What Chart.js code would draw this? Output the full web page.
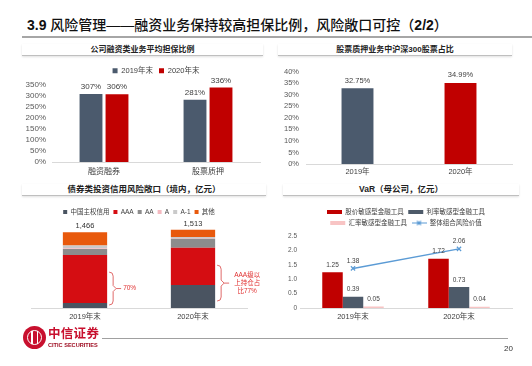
<!DOCTYPE html>
<html>
<head>
<meta charset="utf-8">
<script src="https://cdn.jsdelivr.net/npm/chart.js@4.4.0/dist/chart.umd.min.js"></script>
<style>
  body { margin: 0; width: 532px; height: 366px; background: #fff; position: relative; overflow: hidden;
         font-family: "Liberation Sans", "Noto Sans CJK SC", sans-serif; }
  canvas { position: absolute; }
  #title { position: absolute; left: 27px; top: 16px; font-size: 14px; line-height: 18px; font-weight: 500; color: #111; white-space: nowrap; }
  #title b { font-weight: bold; }
  #titleLine { position: absolute; left: 22px; top: 36px; width: 510px; height: 2px; background: #a6a6a6; }
  .hdr { position: absolute; font-size: 8px; line-height: 11px; font-weight: bold; text-align: center; color: #222;
         border-bottom: 1px solid #bfbfbf; box-shadow: 0 1px 2px rgba(0,0,0,0.12); white-space: nowrap; }
  #logo { position: absolute; left: 23px; top: 326px; width: 23px; height: 23px; border-radius: 50%; background: #c8102e; }
  #logo i { position: absolute; left: 4px; top: 4px; width: 13px; height: 13px; border: 1px solid #fff; border-radius: 50%; }
  #logo s { position: absolute; top: 5px; width: 1.5px; height: 13px; background: #fff; }
  #brand { position: absolute; left: 48px; top: 327px; font-size: 12.5px; line-height: 14px; font-weight: bold; color: #c8102e; letter-spacing: 0.3px; }
  #brandEn { position: absolute; left: 48px; top: 342px; font-size: 5.6px; line-height: 7px; font-weight: bold; color: #9e0b20; }
  #footLine { position: absolute; left: 102px; top: 338px; width: 406px; height: 1px; background: #a0a0a0; }
  #page { position: absolute; left: 504px; top: 344px; font-size: 8px; color: #333; }
</style>
</head>
<body>
<div id="title"><b>3.9</b> 风险管理——融资业务保持较高担保比例，风险敞口可控（<b>2/2</b>）</div>
<div id="titleLine"></div>
<div class="hdr" style="left:22px;top:44px;width:241px;">公司融资类业务平均担保比例</div>
<div class="hdr" style="left:278px;top:44px;width:234px;">股票质押业务中沪深300股票占比</div>
<div class="hdr" style="left:22px;top:184px;width:244px;font-size:8.5px;">债券类投资信用风险敞口（境内，亿元）</div>
<div class="hdr" style="left:283px;top:184px;width:236px;font-size:8.5px;">VaR（母公司，亿元）</div>

<canvas id="c1" width="266" height="120" style="left:0;top:60px"></canvas>
<canvas id="c2" width="266" height="120" style="left:266px;top:60px"></canvas>
<canvas id="c3" width="266" height="130" style="left:0;top:200px"></canvas>
<canvas id="c4" width="266" height="130" style="left:266px;top:200px"></canvas>

<div id="logo"><i></i><s style="left:8px"></s><s style="left:13.5px"></s></div>
<div id="brand">中信证券</div>
<div id="brandEn">CITIC SECURITIES</div>
<div id="footLine"></div>
<div id="page">20</div>

<script>
// 公司融资类业务平均担保比例
const marginCats = ['融资融券', '股票质押'];
const margin2019 = [307, 281];
const margin2020 = [306, 336];

// 股票质押业务中沪深300股票占比
const hs300Cats = ['2019年', '2020年'];
const hs300Share = [32.75, 34.99];

// 债券类投资信用风险敞口
const bondCats = ['2019年末', '2020年末'];
const bondSovereign = [95, 445];
const bondAAA = [930, 720];
const bondAA = [115, 175];
const bondA = [15, 8];
const bondA1 = [55, 25];
const bondOther = [256, 140];
const bondNoteText = [['70%'], ['AAA级以', '上持仓占', '比77%']];
const bondNoteSpan = [[58, 694], [135, 828]];

// VaR
const varCats = ['2019年末', '2020年末'];
const varEquity = [1.25, 1.72];
const varRate = [0.39, 0.73];
const varFx = [0.05, 0.04];
const varTotal = [1.38, 2.06];

const SLATE = '#4b5a6d';
const RED = '#c00000';
const TICK = '#595959';
const AXIS = '#d9d9d9';

Chart.defaults.font.family = '"Liberation Sans", "Noto Sans CJK SC", sans-serif';
Chart.defaults.color = TICK;
Chart.defaults.animation = false;
Chart.defaults.plugins.tooltip.enabled = false;

// values written above bars / points
const valueLabels = {
  id: 'valueLabels',
  afterDatasetsDraw(chart, args, opts) {
    const ctx = chart.ctx;
    ctx.save();
    ctx.font = (opts.size || 8) + 'px "Liberation Sans"';
    ctx.fillStyle = opts.color || '#404040';
    ctx.textAlign = 'center';
    ctx.textBaseline = 'bottom';
    chart.data.datasets.forEach((ds, di) => {
      if (!ds.labelFmt) return;
      chart.getDatasetMeta(di).data.forEach((el, i) => {
        ctx.fillText(ds.labelFmt(ds.data[i]), el.x, el.y - (opts.offset || 3));
      });
    });
    ctx.restore();
  }
};

// totals and brackets for the stacked chart
const bondNotes = {
  id: 'bondNotes',
  afterDatasetsDraw(chart) {
    const ctx = chart.ctx;
    const y = chart.scales.y;
    const sets = chart.data.datasets;
    const top = chart.getDatasetMeta(sets.length - 1);
    ctx.save();
    top.data.forEach((bar, i) => {
      const total = sets.reduce((s, ds) => s + ds.data[i], 0);
      ctx.font = '7.5px "Liberation Sans"';
      ctx.fillStyle = '#333';
      ctx.textAlign = 'center';
      ctx.textBaseline = 'bottom';
      ctx.fillText(total.toLocaleString('en-US'), bar.x, bar.y - 2);

      const x0 = bar.x + bar.width / 2 + 2;
      const yt = y.getPixelForValue(bondNoteSpan[i][1]);
      const yb = y.getPixelForValue(bondNoteSpan[i][0]);
      const ym = (yt + yb) / 2;
      ctx.strokeStyle = '#e06a6a';
      ctx.lineWidth = 1;
      ctx.beginPath();
      ctx.moveTo(x0, yt);
      ctx.quadraticCurveTo(x0 + 4, yt, x0 + 4, yt + 4);
      ctx.lineTo(x0 + 4, ym - 3);
      ctx.lineTo(x0 + 7, ym);
      ctx.lineTo(x0 + 4, ym + 3);
      ctx.lineTo(x0 + 4, yb - 4);
      ctx.quadraticCurveTo(x0 + 4, yb, x0, yb);
      ctx.moveTo(x0 + 7, ym);
      ctx.lineTo(x0 + 12, ym);
      ctx.stroke();

      const lines = bondNoteText[i];
      ctx.font = '6.5px "Liberation Sans", "Noto Sans CJK SC"';
      ctx.fillStyle = '#e03030';
      ctx.textBaseline = 'middle';
      const w = Math.max(...lines.map(t => ctx.measureText(t).width));
      const cx = x0 + 14 + (lines.length > 1 ? 3 : 0) + w / 2;
      lines.forEach((t, k) => {
        ctx.fillText(t, cx, ym + (k - (lines.length - 1) / 2) * 8);
      });
    });
    ctx.restore();
  }
};

new Chart(document.getElementById('c1'), {
  type: 'bar',
  data: {
    labels: marginCats,
    datasets: [
      { label: '2019年末', data: margin2019, backgroundColor: SLATE, labelFmt: v => v + '%' },
      { label: '2020年末', data: margin2020, backgroundColor: RED, labelFmt: v => v + '%' }
    ]
  },
  options: {
    responsive: false,
    layout: { padding: { top: 1, left: 0, right: 6, bottom: 0 } },
    datasets: { bar: { categoryPercentage: 0.5, barPercentage: 0.88 } },
    plugins: {
      legend: {
        fullSize: false,
        labels: { boxWidth: 5, boxHeight: 5, padding: 6, font: { size: 7.5 }, color: '#404040' }
      },
      valueLabels: { size: 8, offset: 3 }
    },
    scales: {
      x: {
        grid: { display: false, drawTicks: false },
        border: { color: AXIS },
        ticks: { font: { size: 8 }, padding: 5, color: '#404040' },
        afterFit: s => { s.height = 18; }
      },
      y: {
        min: 0, max: 350,
        grid: { display: false, drawTicks: false },
        border: { display: false },
        ticks: { stepSize: 50, autoSkip: false, padding: 6, font: { size: 8 }, callback: v => v + '%' },
        afterFit: s => { s.width = 52; }
      }
    }
  },
  plugins: [valueLabels]
});

new Chart(document.getElementById('c2'), {
  type: 'bar',
  data: {
    labels: hs300Cats,
    datasets: [
      { label: '沪深300股票占比', data: hs300Share, backgroundColor: [SLATE, RED],
        labelFmt: v => v.toFixed(2) + '%' }
    ]
  },
  options: {
    responsive: false,
    layout: { padding: { top: 11, left: 0, right: 20, bottom: 0 } },
    datasets: { bar: { categoryPercentage: 1, barPercentage: 0.31 } },
    plugins: {
      legend: { display: false },
      valueLabels: { size: 7.5, offset: 4 }
    },
    scales: {
      x: {
        grid: { display: false, drawTicks: false },
        border: { color: AXIS },
        ticks: { font: { size: 7.5 }, padding: 3, color: '#404040' },
        afterFit: s => { s.height = 16; }
      },
      y: {
        min: 0, max: 40,
        grid: { display: false, drawTicks: false },
        border: { display: false },
        ticks: { stepSize: 5, autoSkip: false, padding: 7, font: { size: 7.5 }, callback: v => v + '%' },
        afterFit: s => { s.width = 40; }
      }
    }
  },
  plugins: [valueLabels]
});

new Chart(document.getElementById('c3'), {
  type: 'bar',
  data: {
    labels: bondCats,
    datasets: [
      { label: '中国主权信用', data: bondSovereign, backgroundColor: '#4a5461' },
      { label: 'AAA', data: bondAAA, backgroundColor: '#d50d12' },
      { label: 'AA', data: bondAA, backgroundColor: '#8c8c8c' },
      { label: 'A', data: bondA, backgroundColor: '#f4b9c0' },
      { label: 'A-1', data: bondA1, backgroundColor: '#cacaca' },
      { label: '其他', data: bondOther, backgroundColor: '#e8590c' }
    ]
  },
  options: {
    responsive: false,
    layout: { padding: { top: 4.75, left: 31, right: 19, bottom: 0 } },
    datasets: { bar: { categoryPercentage: 1, barPercentage: 0.41 } },
    plugins: {
      legend: {
        fullSize: false,
        labels: { boxWidth: 4, boxHeight: 4, padding: 4, font: { size: 6.5 }, color: '#404040' }
      }
    },
    scales: {
      x: {
        stacked: true,
        grid: { display: false, drawTicks: false },
        border: { color: AXIS },
        ticks: { font: { size: 7.5 }, padding: 4, color: '#404040' },
        afterFit: s => { s.height = 22; }
      },
      y: { stacked: true, display: false, min: 0, max: 1600 }
    }
  },
  plugins: [bondNotes]
});

const lineMark = document.createElement('canvas');
lineMark.width = 15;
lineMark.height = 7;
const lc = lineMark.getContext('2d');
lc.strokeStyle = '#5b9bd5';
lc.lineWidth = 1.2;
lc.beginPath();
lc.moveTo(0, 3.5); lc.lineTo(15, 3.5);
lc.moveTo(5.5, 1.5); lc.lineTo(9.5, 5.5);
lc.moveTo(9.5, 1.5); lc.lineTo(5.5, 5.5);
lc.stroke();

new Chart(document.getElementById('c4'), {
  type: 'bar',
  data: {
    labels: varCats,
    datasets: [
      { label: '股价敏感型金融工具', data: varEquity, backgroundColor: RED, labelFmt: v => v.toFixed(2) },
      { label: '利率敏感型金融工具', data: varRate, backgroundColor: '#4d5a69', labelFmt: v => v.toFixed(2) },
      { label: '汇率敏感型金融工具', data: varFx, backgroundColor: '#f8c4c4', labelFmt: v => v.toFixed(2) },
      { type: 'line', label: '整体组合风险价值', data: varTotal, borderColor: '#5b9bd5', backgroundColor: '#5b9bd5',
        borderWidth: 1.5, pointStyle: 'crossRot', pointRadius: 3, pointBorderWidth: 1.2,
        labelFmt: v => v.toFixed(2) }
    ]
  },
  options: {
    responsive: false,
    layout: { padding: { top: 4.25, left: 0, right: 20, bottom: 0 } },
    datasets: { bar: { categoryPercentage: 0.58, barPercentage: 1 } },
    plugins: {
      legend: {
        fullSize: false,
        labels: {
          usePointStyle: true, pointStyle: 'rect', pointStyleWidth: 15, boxHeight: 4,
          padding: 4.5, font: { size: 6.5 }, color: '#404040',
          generateLabels: chart => {
            const items = Chart.defaults.plugins.legend.labels.generateLabels(chart);
            items[3].pointStyle = lineMark;
            return items;
          }
        }
      },
      valueLabels: { size: 6.5, offset: 4 }
    },
    scales: {
      x: {
        grid: { display: false, drawTicks: false },
        border: { color: AXIS },
        ticks: { font: { size: 7.5 }, padding: 4, color: '#404040' },
        afterFit: s => { s.height = 22; }
      },
      y: {
        min: 0, max: 2.5,
        grid: { display: false, drawTicks: false },
        border: { display: false },
        ticks: { stepSize: 0.5, autoSkip: false, padding: 3, font: { size: 6.5 } },
        afterFit: s => { s.width = 34; }
      }
    }
  },
  plugins: [valueLabels]
});
</script>
</body>
</html>
